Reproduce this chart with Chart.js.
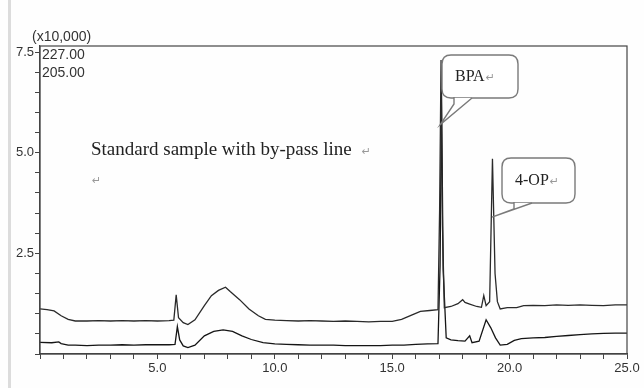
<!DOCTYPE html>
<html>
<head>
<meta charset="utf-8">
<title>Chromatogram - BPA / 4-OP</title>
<script src="https://cdn.jsdelivr.net/npm/chart.js@4.4.1/dist/chart.umd.min.js"></script>
<style>
    html, body {
        margin: 0;
        padding: 0;
        background: #fefefe;
    }
    #wrap {
        position: relative;
        width: 644px;
        height: 388px;
    }
    #edge {
        position: absolute;
        left: 8px;
        top: 0;
        width: 3px;
        height: 388px;
        background: #dcdcdc;
    }
</style>
</head>
<body>
<div id="wrap">
    <div id="edge"></div>
    <canvas id="grafico" width="644" height="388"></canvas>
</div>

<script>

// =============================
// DADOS (tempo em min, sinal x10,000)
// =============================

const upperTime = [
    0.0, 0.3, 0.6, 0.9, 1.2, 1.5, 2.0, 2.5, 3.0, 3.5, 4.0, 4.5, 5.0, 5.5, 5.7, 5.8, 5.9,
    6.1, 6.3, 6.6, 7.0, 7.3, 7.6, 7.9, 8.1, 8.5, 8.9, 9.3, 9.6, 10.0, 10.5, 11.0, 11.5,
    12.0, 12.5, 13.0, 13.5, 14.0, 14.5, 15.0, 15.4, 15.8, 16.2, 16.6, 16.95, 17.02, 17.08,
    17.14, 17.22, 17.5, 17.8, 18.0, 18.1, 18.3, 18.6, 18.8, 18.9, 19.0, 19.15, 19.27,
    19.38, 19.48, 19.6, 19.9, 20.3, 20.6, 21.0, 21.5, 22.0, 22.5, 23.0, 23.5, 24.0, 24.5, 25.0
];
const upperSignal = [
    1.12, 1.10, 1.07, 0.95, 0.86, 0.82, 0.82, 0.83, 0.82, 0.83, 0.82, 0.83, 0.82, 0.83, 0.84, 1.47, 0.90,
    0.78, 0.73, 0.85, 1.20, 1.45, 1.58, 1.66, 1.55, 1.35, 1.12, 0.95, 0.86, 0.84, 0.83, 0.82, 0.83,
    0.82, 0.81, 0.82, 0.81, 0.80, 0.81, 0.81, 0.86, 0.96, 1.06, 1.08, 1.10, 3.6, 7.3,
    3.2, 1.15, 1.18, 1.25, 1.35, 1.28, 1.24, 1.18, 1.16, 1.45, 1.20, 1.30, 4.85,
    2.0, 1.30, 1.12, 1.15, 1.15, 1.20, 1.21, 1.20, 1.22, 1.21, 1.22, 1.21, 1.20, 1.22, 1.22
];

const lowerTime = [
    0.0, 0.5, 0.8, 0.9, 1.2, 1.5, 2.0, 2.5, 3.0, 3.5, 4.0, 4.5, 5.0, 5.5, 5.75, 5.85, 5.95,
    6.1, 6.3, 6.6, 7.0, 7.4, 7.8, 8.2, 8.6, 9.0, 9.5, 10.0, 10.5, 11.0, 11.5, 12.0, 12.5,
    13.0, 13.5, 14.0, 14.5, 15.0, 15.5, 16.0, 16.5, 16.95, 17.04, 17.1, 17.17, 17.3, 17.5,
    17.8, 18.1, 18.3, 18.4, 18.7, 19.0, 19.2, 19.4, 19.6, 19.9, 20.2, 20.5, 21.0, 21.5,
    22.0, 22.5, 23.0, 23.5, 24.0, 24.5, 25.0
];
const lowerSignal = [
    0.29, 0.28, 0.30, 0.26, 0.22, 0.22, 0.21, 0.22, 0.22, 0.23, 0.22, 0.23, 0.23, 0.23, 0.24, 0.68, 0.35,
    0.20, 0.16, 0.22, 0.45, 0.56, 0.60, 0.56, 0.45, 0.36, 0.28, 0.25, 0.24, 0.23, 0.22, 0.22, 0.22,
    0.21, 0.21, 0.21, 0.21, 0.22, 0.22, 0.24, 0.25, 0.26, 2.2, 6.5, 2.1, 0.40, 0.35,
    0.33, 0.32, 0.45, 0.28, 0.32, 0.85, 0.65, 0.40, 0.22, 0.24, 0.34, 0.38, 0.40, 0.41,
    0.44, 0.46, 0.48, 0.50, 0.51, 0.52, 0.52
];

const xTickLabels = [5, 10, 15, 20, 25];
const yTickLabels = [2.5, 5.0, 7.5];
const channelLabels = ["227.00", "205.00"];

// anotações dos picos: [texto, tempo, sinal na ponta da seta]
const peakNotes = [
    ["BPA", 17.05, 5.7],
    ["4-OP", 19.25, 3.4]
];

// =============================
// PLUGIN: moldura, rótulos, balões
// =============================

function roundRect(ctx, x, y, w, h, r) {
    ctx.beginPath();
    ctx.moveTo(x + r, y);
    ctx.lineTo(x + w - r, y);
    ctx.quadraticCurveTo(x + w, y, x + w, y + r);
    ctx.lineTo(x + w, y + h - r);
    ctx.quadraticCurveTo(x + w, y + h, x + w - r, y + h);
    ctx.lineTo(x + r, y + h);
    ctx.quadraticCurveTo(x, y + h, x, y + h - r);
    ctx.lineTo(x, y + r);
    ctx.quadraticCurveTo(x, y, x + r, y);
    ctx.closePath();
}

function drawCallout(ctx, box, tip, text) {
    // box = [x, y, w, h], a seta sai da borda de baixo
    const [bx, by, bw, bh] = box;
    ctx.save();
    ctx.strokeStyle = "#7a7a7a";
    ctx.lineWidth = 1.4;
    ctx.fillStyle = "#ffffff";
    roundRect(ctx, bx, by, bw, bh, 9);
    ctx.fill();
    ctx.stroke();

    // seta
    ctx.beginPath();
    ctx.moveTo(bx + 12, by + bh);
    ctx.lineTo(bx + 12, by + bh + 6);
    ctx.lineTo(tip[0], tip[1]);
    ctx.lineTo(bx + 30, by + bh);
    ctx.closePath();
    ctx.fill();
    ctx.beginPath();
    ctx.moveTo(bx + 12, by + bh - 1);
    ctx.lineTo(bx + 12, by + bh + 6);
    ctx.lineTo(tip[0], tip[1]);
    ctx.lineTo(bx + 30, by + bh);
    ctx.stroke();

    ctx.fillStyle = "#222";
    ctx.font = "16px 'Liberation Serif'";
    ctx.textBaseline = "middle";
    ctx.textAlign = "left";
    ctx.fillText(text, bx + 13, by + bh / 2);
    const w = ctx.measureText(text).width;
    ctx.fillStyle = "#999";
    ctx.font = "11px 'DejaVu Sans'";
    ctx.fillText("\u21B5", bx + 14 + w, by + bh / 2 + 2);
    ctx.restore();
}

const chromPlugin = {
    id: "chromPlugin",
    afterDraw(chart) {
        const ctx = chart.ctx;
        const area = chart.chartArea;
        const xs = chart.scales.x;
        const ys = chart.scales.y;

        // moldura
        ctx.save();
        ctx.strokeStyle = "#444";
        ctx.lineWidth = 1.2;
        ctx.strokeRect(area.left, area.top, area.right - area.left, area.bottom - area.top);

        // fator de escala e canais
        ctx.fillStyle = "#333";
        ctx.font = "14px 'Liberation Sans'";
        ctx.textBaseline = "middle";
        ctx.textAlign = "left";
        ctx.fillText("(x10,000)", 32, 37);
        channelLabels.forEach((lab, i) => {
            ctx.fillText(lab, area.left + 2, 55 + i * 18);
        });

        // texto da amostra
        ctx.fillStyle = "#222";
        ctx.font = "19px 'Liberation Serif'";
        ctx.fillText("Standard sample with by-pass line", 91, 150);
        const tw = ctx.measureText("Standard sample with by-pass line").width;
        ctx.fillStyle = "#999";
        ctx.font = "11px 'DejaVu Sans'";
        ctx.fillText("\u21B5", 91 + tw + 10, 152);
        ctx.fillText("\u21B5", 92, 181);
        ctx.restore();

        // balões
        const boxes = [[442, 55, 76, 43], [502, 158, 73, 45]];
        peakNotes.forEach((note, i) => {
            const tip = [xs.getPixelForValue(note[1]), ys.getPixelForValue(note[2])];
            drawCallout(ctx, boxes[i], tip, note[0]);
        });
    }
};

// =============================
// GRÁFICO
// =============================

function toPoints(xv, yv) {
    return xv.map((x, i) => ({ x: x, y: yv[i] }));
}

function renderChromatogram() {

    const ctx = document.getElementById("grafico");

    new Chart(ctx, {
        type: "scatter",
        data: {
            datasets: [
                {
                    label: channelLabels[0],
                    data: toPoints(upperTime, upperSignal),
                    showLine: true,
                    borderColor: "#2a2a2a",
                    borderWidth: 1.3,
                    pointRadius: 0,
                    tension: 0
                },
                {
                    label: channelLabels[1],
                    data: toPoints(lowerTime, lowerSignal),
                    showLine: true,
                    borderColor: "#151515",
                    borderWidth: 1.3,
                    pointRadius: 0,
                    tension: 0
                }
            ]
        },
        options: {
            responsive: false,
            animation: false,
            layout: { padding: { top: 46, right: 17, left: 0, bottom: 0 } },
            plugins: {
                legend: { display: false },
                tooltip: { enabled: false }
            },
            scales: {
                x: {
                    type: "linear",
                    min: 0,
                    max: 25,
                    afterFit: axis => { axis.height = 34; },
                    ticks: {
                        stepSize: 1,
                        autoSkip: false,
                        maxRotation: 0,
                        padding: 2,
                        color: "#333",
                        font: { family: "Liberation Sans", size: 13 },
                        callback: v => xTickLabels.includes(v) ? v.toFixed(1) : ""
                    },
                    grid: {
                        drawOnChartArea: false,
                        tickLength: 5,
                        color: "#444"
                    },
                    border: { color: "#444", width: 1.2 }
                },
                y: {
                    min: 0,
                    max: 7.65,
                    afterFit: axis => { axis.width = 40; },
                    ticks: {
                        stepSize: 0.5,
                        includeBounds: false,
                        autoSkip: false,
                        padding: 1,
                        color: "#333",
                        font: { family: "Liberation Sans", size: 13 },
                        callback: v => yTickLabels.includes(v) ? v.toFixed(1) : ""
                    },
                    grid: {
                        drawOnChartArea: false,
                        tickLength: 5,
                        color: "#444"
                    },
                    border: { color: "#444", width: 1.2 }
                }
            }
        },
        plugins: [chromPlugin]
    });

}

window.addEventListener("load", renderChromatogram);

</script>
</body>
</html>
